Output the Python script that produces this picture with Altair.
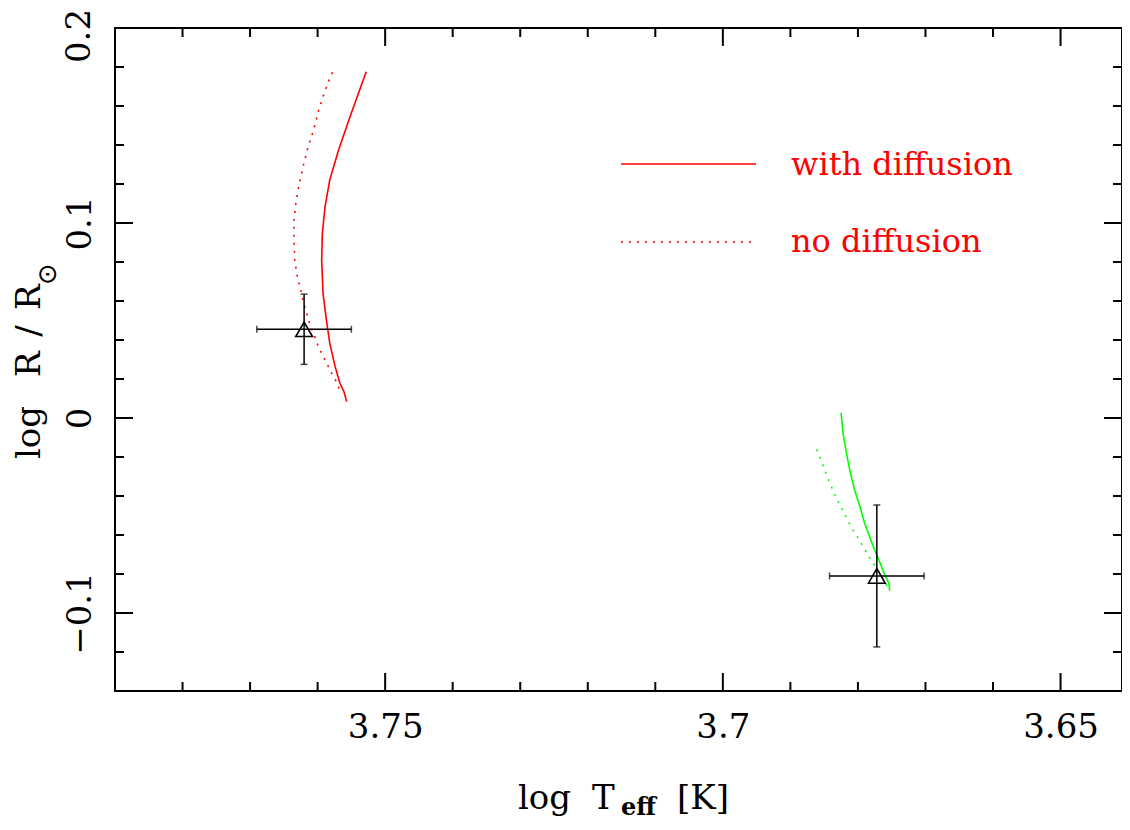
import altair as alt
import pandas as pd

# ---- data ----
red_diff_teff = [3.7528, 3.7552, 3.7569, 3.7582, 3.7589, 3.7593, 3.7594, 3.7592, 3.7587, 3.7582, 3.7574, 3.7567, 3.7561, 3.7557]
red_diff_logr = [0.1776, 0.1545, 0.1374, 0.1221, 0.1084, 0.0947, 0.0810, 0.0640, 0.0503, 0.0383, 0.0263, 0.0178, 0.0135, 0.0084]

red_nodiff_teff = [3.7578, 3.7584, 3.7592, 3.7599, 3.7606, 3.7614, 3.7621, 3.7627, 3.7632, 3.7635, 3.7635,
                   3.7634, 3.7630, 3.7624, 3.7619, 3.7612, 3.7606, 3.7599, 3.7589, 3.7579, 3.7571, 3.7566]
red_nodiff_logr = [0.1773, 0.1725, 0.1648, 0.1571, 0.1477, 0.1391, 0.1297, 0.1204, 0.1109, 0.1015, 0.0913,
                   0.0810, 0.0725, 0.0640, 0.0571, 0.0486, 0.0434, 0.0366, 0.0297, 0.0229, 0.0178, 0.0127]

green_diff_teff = [3.6825, 3.6822, 3.6817, 3.6811, 3.6805, 3.6797, 3.6790, 3.6781, 3.6772, 3.6765, 3.6759, 3.6754, 3.6753]
green_diff_logr = [0.0027, -0.0079, -0.0181, -0.0284, -0.0369, -0.0455, -0.0540, -0.0626, -0.0703, -0.0763, -0.0814, -0.0848, -0.0886]

green_nodiff_teff = [3.6861, 3.6852, 3.6843, 3.6833, 3.6822, 3.6811, 3.6798, 3.6786, 3.6772, 3.6759, 3.6755]
green_nodiff_logr = [-0.0161, -0.0241, -0.0322, -0.0403, -0.0477, -0.0554, -0.0626, -0.0699, -0.0771, -0.0845, -0.0886]

star_teff = [3.7620, 3.6772]
star_logr = [0.0455, -0.0810]
star_teff_err = [0.0070, 0.0070]
star_logr_err = [0.0180, 0.0364]

x_major = [3.75, 3.70, 3.65]
x_minor = [3.78, 3.77, 3.76, 3.74, 3.73, 3.72, 3.71, 3.69, 3.68, 3.67, 3.66]
y_major = [-0.1, 0.0, 0.1, 0.2]
y_labelled = [-0.1, 0.0, 0.1]          # 0.2 is written separately so it is not clipped at the top
y_minor = [-0.12, -0.08, -0.06, -0.04, -0.02, 0.02, 0.04, 0.06, 0.08, 0.12, 0.14, 0.16, 0.18]

W, H = 1007, 663
FONT = "DejaVu Serif"
RED = "#ff0000"
GREEN = "#00ff00"

# ---- tables ----
rows = []
for name, style, color, xs_, ys_ in [
    ("red_diff", "with", RED, red_diff_teff, red_diff_logr),
    ("red_nodiff", "no", RED, red_nodiff_teff, red_nodiff_logr),
    ("green_diff", "with", GREEN, green_diff_teff, green_diff_logr),
    ("green_nodiff", "no", GREEN, green_nodiff_teff, green_nodiff_logr),
]:
    for i, (a, b) in enumerate(zip(xs_, ys_)):
        rows.append({"track": name, "style": style, "color": color, "i": i, "teff": a, "logr": b})
tracks = pd.DataFrame(rows)

stars = pd.DataFrame({
    "teff": star_teff, "logr": star_logr,
    "xlo": [t - e for t, e in zip(star_teff, star_teff_err)],
    "xhi": [t + e for t, e in zip(star_teff, star_teff_err)],
    "ylo": [r - e for r, e in zip(star_logr, star_logr_err)],
    "yhi": [r + e for r, e in zip(star_logr, star_logr_err)],
})
hcaps = pd.DataFrame({"teff": list(stars["xlo"]) + list(stars["xhi"]), "logr": star_logr + star_logr})
vcaps = pd.DataFrame({"teff": star_teff + star_teff, "logr": list(stars["ylo"]) + list(stars["yhi"])})

xs = alt.Scale(domain=[3.6409, 3.79], reverse=True, nice=False, zero=False)
ys = alt.Scale(domain=[-0.14, 0.2], nice=False, zero=False)

xaxis = alt.Axis(values=x_major, format="~g", ticks=False, tickSize=0, domain=False, grid=False, title=None,
                 labelFont=FONT, labelFontSize=34, labelColor="black", labelPadding=19, labelFlush=False)
yaxis = alt.Axis(values=y_labelled, format="~g", ticks=False, tickSize=0, domain=False, grid=False, title=None,
                 labelFont=FONT, labelFontSize=34, labelColor="black", labelPadding=25, labelAngle=270,
                 labelAlign="center", labelBaseline="alphabetic", labelFlush=False)


def X(f):
    return alt.X(f, scale=xs, axis=xaxis, title=None)


def Y(f):
    return alt.Y(f, scale=ys, axis=yaxis, title=None)


lines = alt.Chart(tracks).mark_line(strokeWidth=1.6).encode(
    x=X("teff:Q"),
    y=Y("logr:Q"),
    color=alt.Color("color:N", scale=None),
    strokeDash=alt.StrokeDash("style:N", scale=alt.Scale(domain=["with", "no"], range=[[1, 0], [2, 6]]), legend=None),
    detail="track:N",
    order="i:Q",
)

hbars = alt.Chart(stars).mark_rule(color="black", strokeWidth=1.5).encode(
    x=X("xlo:Q"), x2="xhi:Q", y=Y("logr:Q"))
vbars = alt.Chart(stars).mark_rule(color="black", strokeWidth=1.5).encode(
    x=X("teff:Q"), y=Y("ylo:Q"), y2="yhi:Q")
hcap = alt.Chart(hcaps).mark_tick(color="black", orient="vertical", size=7, thickness=1.5).encode(
    x=X("teff:Q"), y=Y("logr:Q"))
vcap = alt.Chart(vcaps).mark_tick(color="black", orient="horizontal", size=7, thickness=1.5).encode(
    x=X("teff:Q"), y=Y("logr:Q"))
tri = alt.Chart(stars).mark_point(shape="triangle-up", size=280, filled=False, color="black", strokeWidth=1.6, opacity=1).encode(
    x=X("teff:Q"), y=Y("logr:Q"))


def xticks(vals, length):
    d = pd.DataFrame({"teff": vals})
    bot = alt.Chart(d).mark_rule(color="black", strokeWidth=2).encode(
        x=X("teff:Q"), y=alt.value(H), y2=alt.value(H - length))
    top = alt.Chart(d).mark_rule(color="black", strokeWidth=2).encode(
        x=X("teff:Q"), y=alt.value(0), y2=alt.value(length))
    return [bot, top]


def yticks(vals, length):
    d = pd.DataFrame({"logr": vals})
    left = alt.Chart(d).mark_rule(color="black", strokeWidth=2).encode(
        y=Y("logr:Q"), x=alt.value(0), x2=alt.value(length))
    right = alt.Chart(d).mark_rule(color="black", strokeWidth=2).encode(
        y=Y("logr:Q"), x=alt.value(W), x2=alt.value(W - length))
    return [left, right]


def txt(s, x, y, size, color="black", angle=0, align="left", baseline="alphabetic", weight="normal", font=FONT):
    return alt.Chart(alt.Data(values=[{}])).mark_text(
        text=s, fontSize=size, color=color, angle=angle, align=align, baseline=baseline,
        fontWeight=weight, font=font).encode(x=alt.value(x), y=alt.value(y))


def legline(y, dash):
    return alt.Chart(alt.Data(values=[{}])).mark_rule(color=RED, strokeWidth=1.6, strokeDash=dash).encode(
        x=alt.value(506), x2=alt.value(641), y=alt.value(y))


annots = [
    legline(136, [1, 0]),
    legline(214, [2, 6]),
    txt("with diffusion", 676, 147, 32, color=RED),
    txt("no diffusion", 676, 224, 32, color=RED),
    # top y tick label
    txt("0.2", -25, 8, 34, angle=270, align="center"),
    # x title: log T_eff [K]
    txt("log", 403, 781, 34),
    txt("T", 477, 781, 34),
    txt("eff", 506, 787, 24, weight="bold"),
    txt("[K]", 562, 781, 34),
    # y title: log R/R_sun
    txt("log", -75, 431, 34, angle=270),
    txt("R", -75, 349, 34, angle=270),
    txt("/", -75, 303, 34, angle=270, align="center"),
    txt("R", -75, 282, 34, angle=270),
    txt("\u2299", -67, 246, 26, angle=270, align="center", baseline="middle", font="DejaVu Sans"),
]

layers = [lines] + xticks(x_major, 18) + xticks(x_minor, 9) + yticks(y_major, 18) + yticks(y_minor, 9) \
    + [hbars, vbars, hcap, vcap, tri] + annots

chart = alt.layer(*layers).properties(
    width=W, height=H,
    autosize=alt.AutoSizeParams(type="none"),
    padding={"left": 107, "top": 20, "right": 0, "bottom": 131},
).configure_view(stroke="black", strokeWidth=2)

chart.save("out.html", embed_options={"renderer": "svg", "actions": False})
